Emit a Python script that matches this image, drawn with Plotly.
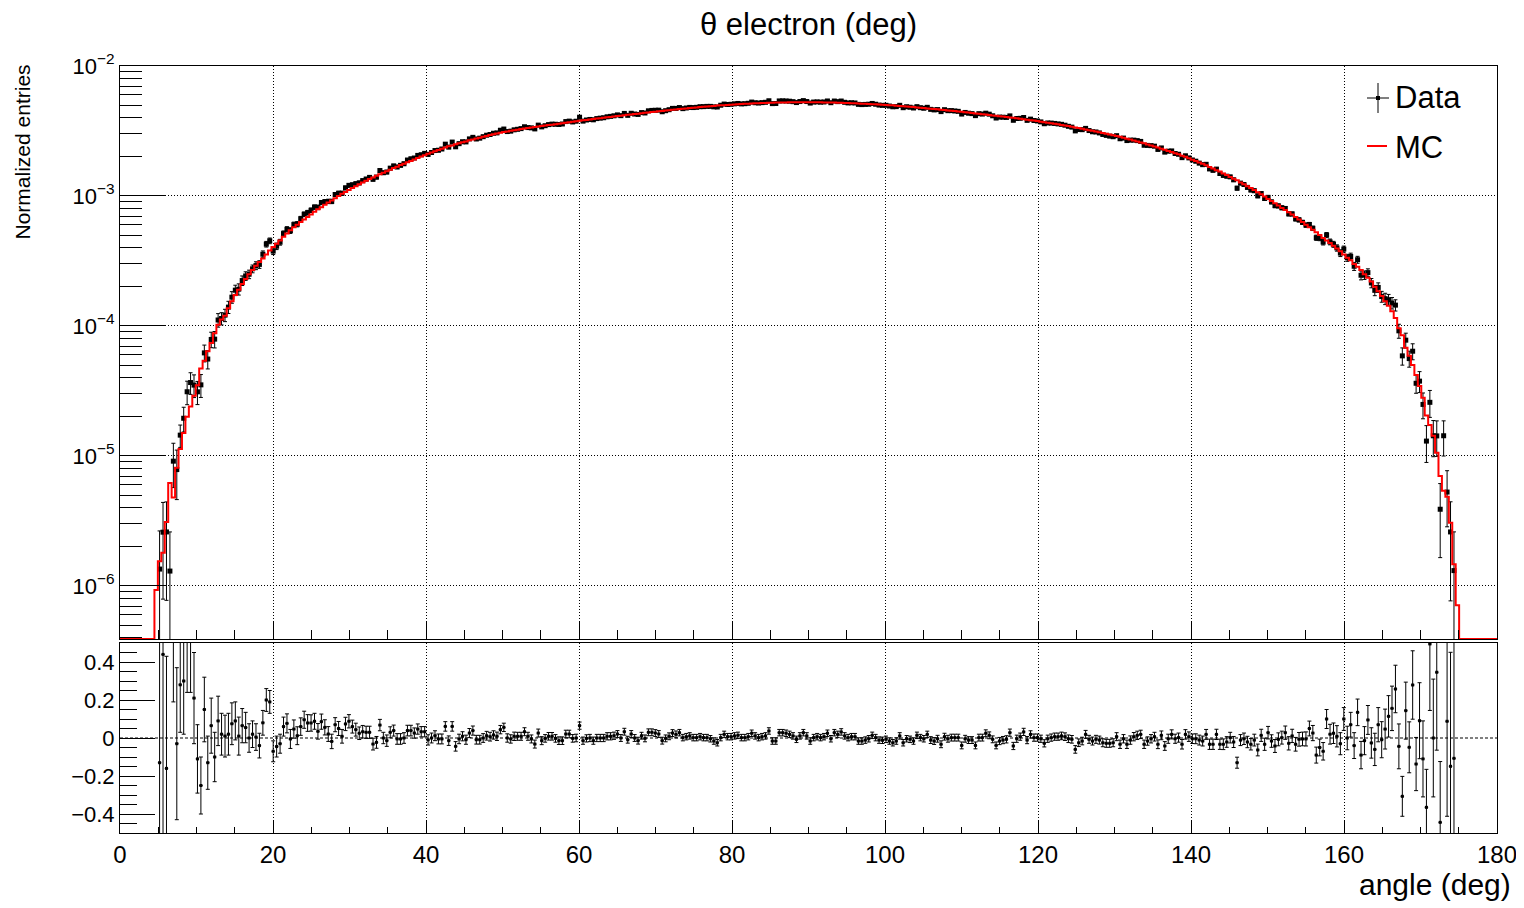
import numpy as np
import plotly.graph_objects as go

# ---------------- histogram binning ----------------
N_BINS = 400
X_MIN, X_MAX = 0.0, 180.0
MC_FIRST_BIN = 10      # first non-empty MC bin (4.50-4.95 deg)
DATA_FIRST_BIN = 11    # first data bin shown

# MC normalized entries per bin (units of 1e-3), bins 10 .. 388
mc_milli = [
    0.00093, 0.00155, 0.0018, 0.0031, 0.0062, 0.0048, 0.0081, 0.0113, 0.015, 0.020,
    0.024, 0.029, 0.035, 0.047, 0.054, 0.064, 0.074, 0.088, 0.102, 0.112,
    0.120, 0.137, 0.155, 0.173, 0.19, 0.21, 0.23, 0.25, 0.27, 0.29,
    0.31, 0.33, 0.355, 0.38, 0.405, 0.43, 0.455, 0.485, 0.515, 0.545,
    0.575, 0.60, 0.63, 0.66, 0.69, 0.72, 0.755, 0.79, 0.82, 0.855,
    0.89, 0.925, 0.96, 1.0, 1.04, 1.075, 1.11, 1.15, 1.19, 1.23,
    1.27, 1.31, 1.35, 1.39, 1.43, 1.47, 1.51, 1.55, 1.59, 1.64,
    1.68, 1.73, 1.77, 1.82, 1.86, 1.91, 1.96, 2.01, 2.06, 2.11,
    2.16, 2.21, 2.26, 2.31, 2.36, 2.41, 2.45, 2.5, 2.54, 2.59,
    2.63, 2.68, 2.72, 2.77, 2.81, 2.86, 2.9, 2.95, 2.99, 3.03,
    3.07, 3.1, 3.13, 3.17, 3.2, 3.23, 3.27, 3.3, 3.33, 3.36,
    3.39, 3.42, 3.45, 3.48, 3.51, 3.54, 3.57, 3.6, 3.63, 3.66,
    3.69, 3.72, 3.76, 3.79, 3.82, 3.85, 3.88, 3.91, 3.94, 3.97,
    4.0, 4.03, 4.06, 4.09, 4.12, 4.15, 4.18, 4.21, 4.24, 4.27,
    4.3, 4.33, 4.36, 4.39, 4.42, 4.45, 4.48, 4.51, 4.54, 4.57,
    4.6, 4.63, 4.66, 4.69, 4.72, 4.75, 4.78, 4.8, 4.83, 4.86,
    4.88, 4.91, 4.93, 4.96, 4.98, 5.0, 5.02, 5.04, 5.06, 5.08,
    5.1, 5.12, 5.13, 5.15, 5.16, 5.18, 5.19, 5.2, 5.21, 5.22,
    5.23, 5.24, 5.25, 5.25, 5.26, 5.26, 5.27, 5.27, 5.27, 5.27,
    5.27, 5.27, 5.26, 5.26, 5.25, 5.25, 5.24, 5.23, 5.22, 5.21,
    5.2, 5.19, 5.18, 5.16, 5.15, 5.13, 5.12, 5.1, 5.08, 5.07,
    5.06, 5.04, 5.02, 5.0, 4.98, 4.95, 4.93, 4.9, 4.88, 4.85,
    4.83, 4.8, 4.77, 4.75, 4.72, 4.69, 4.67, 4.64, 4.61, 4.58,
    4.55, 4.53, 4.5, 4.47, 4.44, 4.41, 4.38, 4.35, 4.32, 4.29,
    4.26, 4.23, 4.2, 4.17, 4.14, 4.11, 4.08, 4.05, 4.02, 3.99,
    3.96, 3.93, 3.89, 3.86, 3.83, 3.8, 3.77, 3.73, 3.7, 3.66,
    3.63, 3.59, 3.56, 3.52, 3.48, 3.45, 3.41, 3.37, 3.33, 3.29,
    3.25, 3.21, 3.17, 3.13, 3.09, 3.05, 3.01, 2.97, 2.93, 2.89,
    2.85, 2.8, 2.76, 2.72, 2.67, 2.63, 2.58, 2.54, 2.49, 2.45,
    2.4, 2.36, 2.31, 2.27, 2.22, 2.18, 2.13, 2.09, 2.04, 2.0,
    1.95, 1.9, 1.86, 1.81, 1.77, 1.72, 1.67, 1.63, 1.58, 1.54,
    1.49, 1.45, 1.4, 1.36, 1.32, 1.27, 1.23, 1.19, 1.15, 1.11,
    1.07, 1.03, 0.99, 0.95, 0.915, 0.88, 0.845, 0.81, 0.78, 0.75,
    0.72, 0.69, 0.66, 0.63, 0.60, 0.575, 0.55, 0.525, 0.50, 0.475,
    0.455, 0.435, 0.415, 0.395, 0.375, 0.355, 0.335, 0.32, 0.30, 0.285,
    0.27, 0.25, 0.235, 0.22, 0.20, 0.185, 0.17, 0.155, 0.143, 0.13,
    0.115, 0.096, 0.085, 0.068, 0.059, 0.050, 0.042, 0.0345, 0.028, 0.0205,
    0.0173, 0.0143, 0.0106, 0.0070, 0.0054, 0.00485, 0.00306, 0.00147, 0.00071,
]

# (Data - MC) / MC per bin, bins 11 .. 387
ratio_values = [
    -0.13, 0.44, -0.16, -0.79, 0.9, -0.03, 0.28, 0.30, 0.56,
    0.53, 0.21, -0.11, -0.25, 0.15, -0.13, 0.065, -0.10, 0.09, 0.02,
    0.01, 0.02, 0.075, 0.09, 0.01, 0.065, 0.055, 0.0, 0.02, 0.005,
    -0.04, 0.08, 0.20, 0.19, -0.07, -0.045, -0.03, 0.06, 0.077, -0.005,
    0.047, 0.012, 0.06, 0.096, 0.079, 0.079, 0.088, 0.035, 0.086, 0.056,
    0.021, -0.018, 0.07, 0.05, 0.009, 0.074, 0.088, 0.06, 0.044, 0.025,
    0.033, 0.03, 0.03, -0.032, -0.023, 0.068, 0.0, -0.014, 0.03, 0.039,
    -0.005, -0.005, 0.0, 0.039, 0.039, 0.026, 0.047, 0.033, 0.033, -0.01,
    0.0, 0.012, -0.005, -0.005, 0.061, -0.014, 0.061, -0.044, -0.005, 0.009,
    -0.009, 0.026, 0.039, -0.009, -0.009, 0.0, 0.012, 0.007, 0.016, 0.009,
    0.044, 0.056, 0.0, -0.005, 0.009, 0.009, 0.009, 0.033, 0.009, -0.005,
    -0.032, 0.026, -0.014, -0.002, 0.009, 0.009, -0.002, -0.014, -0.014, 0.021,
    0.021, -0.002, 0.0, 0.065, -0.014, -0.002, 0.0, -0.014, 0.0, 0.0,
    0.0, 0.009, 0.009, 0.012, 0.021, 0.0, 0.033, -0.009, 0.021, 0.0,
    -0.014, 0.012, -0.002, 0.03, 0.03, 0.026, 0.021, -0.014, -0.002, 0.009,
    0.026, 0.019, 0.028, 0.002, 0.007, 0.011, 0.002, 0.002, 0.007, 0.002,
    0.002, -0.004, -0.016, -0.025, 0.002, 0.019, 0.007, 0.007, 0.011, 0.014,
    0.002, 0.002, 0.007, 0.025, 0.011, 0.002, 0.007, 0.011, 0.037, -0.016,
    -0.016, 0.028, 0.028, 0.025, 0.019, 0.011, -0.007, 0.011, 0.028, 0.011,
    -0.016, 0.002, 0.007, 0.002, 0.007, 0.025, -0.004, 0.028, 0.019, 0.032,
    0.011, 0.002, 0.007, 0.007, -0.016, -0.016, -0.011, -0.004, 0.014, 0.002,
    -0.011, -0.012, -0.007, -0.016, -0.025, -0.016, 0.011, -0.025, -0.004, -0.007,
    -0.016, 0.014, 0.002, -0.004, 0.019, -0.011, -0.016, -0.004, -0.033, 0.007,
    -0.004, 0.002, 0.002, 0.002, -0.039, -0.004, -0.011, -0.011, -0.039, 0.002,
    0.002, 0.025, 0.014, -0.007, -0.039, -0.016, -0.011, -0.007, 0.028, -0.042,
    -0.004, 0.007, 0.032, -0.011, 0.019, 0.002, 0.002, -0.004, -0.028, -0.004,
    0.002, 0.007, 0.007, 0.011, 0.007, -0.004, -0.007, -0.06, -0.025, -0.016,
    0.019, -0.007, -0.016, -0.007, -0.011, -0.025, -0.028, -0.028, -0.025, 0.007,
    -0.033, -0.004, -0.033, -0.011, 0.007, 0.014, 0.019, -0.033, -0.016, -0.004,
    0.007, -0.033, 0.014, -0.042, -0.004, 0.019, -0.004, 0.002, -0.033, 0.019,
    0.007, -0.004, -0.004, -0.011, -0.016, 0.019, -0.033, -0.033, 0.019, -0.033,
    -0.033, -0.021, 0.002, -0.021, -0.13, -0.011, -0.004, -0.021, -0.033, -0.011,
    -0.063, 0.014, -0.033, 0.028, -0.016, -0.042, -0.007, 0.002, 0.028, -0.028,
    0.011, -0.033, -0.007, -0.005, -0.005, 0.05, 0.026, -0.09, -0.05, -0.07,
    0.10, 0.02, 0.025, 0.009, -0.03, 0.10, 0.0, 0.07, -0.04, 0.135,
    -0.09, -0.014, 0.095, -0.026, -0.06, 0.07, -0.009, 0.047, 0.114, 0.156,
    0.258, -0.044, -0.307, 0.144, -0.049, 0.279, -0.137, 0.091, -0.11, -0.365,
    0.495, 0.0, 0.346, -0.444, 1.65, 0.088, -0.149, -0.107,
]

# statistical uncertainty on the ratio, bins 11 .. 387
ratio_errors = [
    0.84, 1.0, 0.59, 0.21, 0.71, 0.40, 0.25, 0.28, 0.32,
    0.29, 0.24, 0.18, 0.15, 0.17, 0.14, 0.145, 0.13, 0.13, 0.11,
    0.11, 0.11, 0.11, 0.10, 0.10, 0.09, 0.08, 0.075, 0.07, 0.07,
    0.065, 0.065, 0.06, 0.06, 0.055, 0.055, 0.05, 0.05, 0.05, 0.05,
    0.048, 0.047, 0.046, 0.045, 0.044, 0.043, 0.042, 0.041, 0.04, 0.04,
    0.039, 0.038, 0.037, 0.037, 0.036, 0.035, 0.035, 0.034, 0.034, 0.033,
    0.033, 0.032, 0.032, 0.031, 0.031, 0.030, 0.030, 0.030, 0.029, 0.029,
    0.028, 0.028, 0.028, 0.028, 0.028, 0.027, 0.027, 0.027, 0.027, 0.027,
    0.026, 0.026, 0.026, 0.026, 0.025, 0.025, 0.025, 0.025, 0.025, 0.024,
    0.024, 0.024, 0.024, 0.023, 0.023, 0.023, 0.023, 0.023, 0.022, 0.022,
    0.022, 0.022, 0.022, 0.022, 0.022, 0.021, 0.021, 0.021, 0.021, 0.021,
    0.021, 0.021, 0.021, 0.020, 0.020, 0.020, 0.020, 0.020, 0.020, 0.020,
    0.020, 0.020, 0.020, 0.019, 0.019, 0.019, 0.019, 0.019, 0.019, 0.019,
    0.019, 0.019, 0.019, 0.019, 0.018, 0.018, 0.018, 0.018, 0.018, 0.018,
    0.018, 0.018, 0.018, 0.018, 0.018, 0.018, 0.018, 0.018, 0.018, 0.018,
    0.018, 0.018, 0.017, 0.017, 0.017, 0.017, 0.017, 0.017, 0.017, 0.017,
    0.017, 0.017, 0.017, 0.017, 0.017, 0.017, 0.017, 0.017, 0.017, 0.017,
    0.017, 0.017, 0.017, 0.017, 0.017, 0.017, 0.017, 0.017, 0.017, 0.017,
    0.017, 0.017, 0.017, 0.017, 0.017, 0.017, 0.017, 0.017, 0.017, 0.017,
    0.017, 0.017, 0.017, 0.017, 0.017, 0.017, 0.017, 0.017, 0.017, 0.017,
    0.017, 0.017, 0.017, 0.017, 0.017, 0.017, 0.017, 0.017, 0.017, 0.017,
    0.017, 0.017, 0.017, 0.017, 0.017, 0.017, 0.017, 0.017, 0.017, 0.017,
    0.017, 0.017, 0.017, 0.017, 0.017, 0.018, 0.018, 0.018, 0.018, 0.018,
    0.018, 0.018, 0.018, 0.018, 0.018, 0.018, 0.018, 0.018, 0.018, 0.018,
    0.018, 0.018, 0.018, 0.018, 0.018, 0.019, 0.019, 0.019, 0.019, 0.019,
    0.019, 0.019, 0.019, 0.019, 0.019, 0.019, 0.019, 0.019, 0.019, 0.019,
    0.019, 0.019, 0.019, 0.020, 0.020, 0.020, 0.020, 0.020, 0.020, 0.020,
    0.021, 0.021, 0.021, 0.021, 0.021, 0.021, 0.021, 0.021, 0.021, 0.021,
    0.022, 0.022, 0.022, 0.022, 0.022, 0.022, 0.022, 0.022, 0.022, 0.022,
    0.023, 0.023, 0.023, 0.023, 0.024, 0.024, 0.024, 0.024, 0.025, 0.025,
    0.025, 0.025, 0.026, 0.026, 0.026, 0.026, 0.027, 0.027, 0.027, 0.027,
    0.028, 0.028, 0.028, 0.029, 0.029, 0.029, 0.030, 0.030, 0.030, 0.031,
    0.031, 0.032, 0.032, 0.033, 0.033, 0.034, 0.034, 0.034, 0.035, 0.035,
    0.035, 0.036, 0.036, 0.036, 0.037, 0.039, 0.040, 0.042, 0.044, 0.046,
    0.050, 0.052, 0.054, 0.056, 0.058, 0.060, 0.062, 0.065, 0.068, 0.070,
    0.072, 0.074, 0.076, 0.080, 0.085, 0.090, 0.095, 0.105, 0.109, 0.117,
    0.125, 0.118, 0.105, 0.150, 0.134, 0.180, 0.140, 0.200, 0.200, 0.200,
    0.35, 0.31, 0.41, 0.32, 0.80, 0.50, 0.60, 0.88,
]

x_tick_values = [0, 20, 40, 60, 80, 100, 120, 140, 160, 180]
x_tick_labels = ["0", "20", "40", "60", "80", "100", "120", "140", "160", "180"]
y_decades = [1e-6, 1e-5, 1e-4, 1e-3, 1e-2]
y_decade_labels = ["10<sup>−6</sup>", "10<sup>−5</sup>", "10<sup>−4</sup>",
                   "10<sup>−3</sup>", "10<sup>−2</sup>"]
ratio_tick_values = [-0.4, -0.2, 0.0, 0.2, 0.4]
ratio_tick_labels = ["−0.4", "−0.2", "0", "0.2", "0.4"]

assert len(mc_milli) == 379
assert len(ratio_values) == len(ratio_errors) == 377

# ---------------- derived arrays ----------------
edges = np.linspace(X_MIN, X_MAX, N_BINS + 1)
centers = 0.5 * (edges[:-1] + edges[1:])
half_width = 0.5 * (edges[1] - edges[0])

mc = np.zeros(N_BINS)
mc[MC_FIRST_BIN:MC_FIRST_BIN + len(mc_milli)] = np.array(mc_milli) * 1e-3

ratio = np.array(ratio_values)
rerr = np.array(ratio_errors)
idx = np.arange(DATA_FIRST_BIN, DATA_FIRST_BIN + len(ratio))
data_x = centers[idx]
data_y = mc[idx] * (1.0 + ratio)
data_err = mc[idx] * rerr

LOG_RANGE = [-6.408, -2.0]
floor_val = 10 ** LOG_RANGE[0]          # empty bins drawn on the pad floor (as ROOT)
mc_plot = np.where(mc > 0, mc, floor_val)
mc_step_y = list(mc_plot) + [mc_plot[-1]]

FONT = "Liberation Sans, Arial, Helvetica, sans-serif"
GRID_DASH = "1px,2px"

fig = go.Figure()

# Data (upper)
fig.add_trace(go.Scatter(
    x=data_x, y=data_y, mode="markers", name="Data", showlegend=False,
    marker=dict(symbol="square", size=5, color="black"),
    error_y=dict(type="data", array=data_err, arrayminus=data_err,
                 color="black", thickness=1, width=2),
    error_x=dict(type="constant", value=half_width, color="black",
                 thickness=1, width=0),
    xaxis="x", yaxis="y",
))
# MC (upper)
fig.add_trace(go.Scatter(
    x=edges, y=mc_step_y, mode="lines", name="MC", showlegend=False,
    line=dict(color="#ff0000", width=2, shape="hv"),
    xaxis="x", yaxis="y",
))
# Ratio (lower)
fig.add_trace(go.Scatter(
    x=data_x, y=ratio, mode="markers", name="ratio", showlegend=False,
    marker=dict(symbol="square", size=3, color="black"),
    error_y=dict(type="data", array=rerr, arrayminus=rerr,
                 color="black", thickness=1, width=2),
    error_x=dict(type="constant", value=half_width, color="black",
                 thickness=1, width=0),
    xaxis="x2", yaxis="y2",
))

fig.add_hline(y=0, line=dict(color="black", width=1, dash="3px,2px"),
              xref="x2", yref="y2")

# target geometry in screenshot pixels (page body has an 8 px margin)
BODY = 8
W, H = 1524, 908
PLOT_L, PLOT_R, PLOT_T, PLOT_B = 120, 1497, 66, 833
FIG_W, FIG_H = W - BODY, H - BODY
PH = PLOT_B - PLOT_T
PW = PLOT_R - PLOT_L
upper_bottom = (PLOT_B - 639) / PH
lower_top = (PLOT_B - 643) / PH


def px(xp):
    return (xp - PLOT_L) / PW


def py(yp):
    return (PLOT_B - yp) / PH


tick_font = dict(family=FONT, size=24, color="black")
minor_log = [m * 10.0 ** e for e in range(-7, -1) for m in range(2, 10)]

fig.update_layout(
    width=FIG_W, height=FIG_H,
    margin=dict(l=PLOT_L - BODY, r=FIG_W + BODY - PLOT_R, t=PLOT_T - BODY,
                b=FIG_H + BODY - PLOT_B, pad=0, autoexpand=False),
    paper_bgcolor="white", plot_bgcolor="white",
    font=dict(family=FONT, color="black"),
    showlegend=False,
    title=dict(text="θ electron (deg)", x=0.5, xref="paper", xanchor="center",
               y=1 - (24 - BODY) / FIG_H, yref="container", yanchor="middle",
               font=dict(family=FONT, size=31, color="black")),
    xaxis=dict(
        domain=[0, 1], range=[X_MIN, X_MAX], anchor="y", automargin=False,
        tickmode="linear", tick0=0, dtick=20, showticklabels=False,
        ticks="inside", ticklen=17, tickwidth=1, tickcolor="black",
        minor=dict(tickmode="linear", tick0=0, dtick=5, ticks="inside",
                   ticklen=9, tickwidth=1, tickcolor="black", showgrid=False),
        showgrid=True, gridcolor="black", gridwidth=1, griddash=GRID_DASH,
        showline=True, linecolor="black", linewidth=1, mirror=True,
        zeroline=False,
    ),
    yaxis=dict(
        domain=[upper_bottom, 1], type="log", range=LOG_RANGE, anchor="x",
        automargin=False,
        tickmode="array", tickvals=y_decades, ticktext=y_decade_labels,
        ticks="inside", ticklen=45, tickwidth=1, tickcolor="black",
        tickfont=dict(family=FONT, size=22, color="black"),
        minor=dict(tickmode="array", tickvals=minor_log, ticks="inside",
                   ticklen=22, tickwidth=1, tickcolor="black", showgrid=False),
        showgrid=True, gridcolor="black", gridwidth=1, griddash=GRID_DASH,
        showline=True, linecolor="black", linewidth=1, mirror=True,
        zeroline=False,
    ),
    xaxis2=dict(
        domain=[0, 1], range=[X_MIN, X_MAX], anchor="y2", matches="x",
        automargin=False,
        tickmode="array", tickvals=x_tick_values, ticktext=x_tick_labels,
        ticks="inside", ticklen=12, tickwidth=1, tickcolor="black",
        tickfont=tick_font,
        minor=dict(tickmode="linear", tick0=0, dtick=5, ticks="inside",
                   ticklen=6, tickwidth=1, tickcolor="black", showgrid=False),
        showgrid=True, gridcolor="black", gridwidth=1, griddash=GRID_DASH,
        showline=True, linecolor="black", linewidth=1, mirror=True,
        zeroline=False,
    ),
    yaxis2=dict(
        domain=[0, lower_top], range=[-0.5, 0.5], anchor="x2", automargin=False,
        tickmode="array", tickvals=ratio_tick_values, ticktext=ratio_tick_labels,
        ticks="inside", ticklen=35, tickwidth=1, tickcolor="black",
        tickfont=dict(family=FONT, size=22, color="black"),
        minor=dict(tickmode="linear", tick0=0, dtick=0.05, ticks="inside",
                   ticklen=17, tickwidth=1, tickcolor="black", showgrid=False),
        showgrid=False,
        showline=True, linecolor="black", linewidth=1, mirror=True,
        zeroline=False,
    ),
)

annotations = [
    dict(text="Normalized entries", textangle=-90, xref="paper", yref="paper",
         x=px(22), y=py(63), xanchor="center", yanchor="top", showarrow=False,
         font=dict(family=FONT, size=21, color="black")),
    dict(text="angle (deg)", xref="paper", yref="paper",
         x=px(1513), y=py(884), xanchor="right", yanchor="middle", showarrow=False,
         font=dict(family=FONT, size=30, color="black")),
    dict(text="Data", xref="paper", yref="paper",
         x=px(1393), y=py(98), xanchor="left", yanchor="middle", showarrow=False,
         font=dict(family=FONT, size=31, color="black")),
    dict(text="MC", xref="paper", yref="paper",
         x=px(1393), y=py(147), xanchor="left", yanchor="middle", showarrow=False,
         font=dict(family=FONT, size=31, color="black")),
]
fig.update_layout(annotations=annotations)

shapes = [
    # legend icon: Data (marker with error bars)
    dict(type="line", xref="paper", yref="paper", x0=px(1367), x1=px(1389),
         y0=py(98), y1=py(98), line=dict(color="black", width=1)),
    dict(type="line", xref="paper", yref="paper", x0=px(1378), x1=px(1378),
         y0=py(83), y1=py(113), line=dict(color="black", width=1)),
    dict(type="rect", xref="paper", yref="paper", x0=px(1376), x1=px(1380),
         y0=py(100), y1=py(96), line=dict(width=0), fillcolor="black"),
    # legend icon: MC line
    dict(type="line", xref="paper", yref="paper", x0=px(1367), x1=px(1387),
         y0=py(146), y1=py(146), line=dict(color="#ff0000", width=2)),
]
for s in shapes:
    fig.add_shape(**s)

fig.write_html("out.html")
